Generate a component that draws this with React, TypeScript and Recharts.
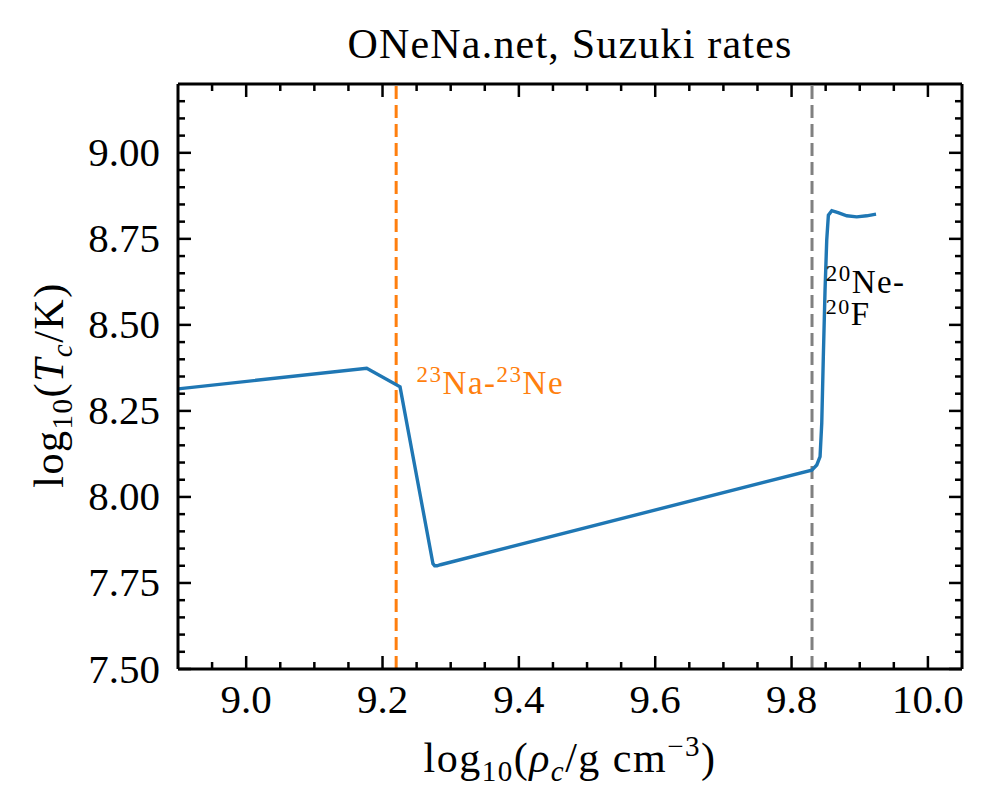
import { LineChart, Line, XAxis, YAxis, ReferenceLine, ReferenceDot, Label } from "recharts";

// central density / temperature track (log10)
const logRho = [8.9, 9.1768, 9.2257, 9.274, 9.2765, 9.28, 9.285, 9.8296, 9.837, 9.8418, 9.8443, 9.8466, 9.8491, 9.8516, 9.854, 9.859, 9.8682, 9.881, 9.8956, 9.9103, 9.9239];
const logT = [8.314, 8.374, 8.32, 7.806, 7.8, 7.8, 7.803, 8.078, 8.093, 8.117, 8.215, 8.408, 8.601, 8.747, 8.819, 8.832, 8.826, 8.817, 8.814, 8.817, 8.822];

// Urca threshold densities
const naNeRho = 9.22;
const neFRho = 9.83;

const xMajorTicks = [9.0, 9.2, 9.4, 9.6, 9.8, 10.0];
const xTickLabels = ["9.0", "9.2", "9.4", "9.6", "9.8", "10.0"];
const xMinorTicks = [8.95, 9.05, 9.1, 9.15, 9.25, 9.3, 9.35, 9.45, 9.5, 9.55, 9.65, 9.7, 9.75, 9.85, 9.9, 9.95];

const yMajorTicks = [7.5, 7.75, 8.0, 8.25, 8.5, 8.75, 9.0];
const yTickLabels = ["7.50", "7.75", "8.00", "8.25", "8.50", "8.75", "9.00"];
const yMinorTicks = [7.55, 7.6, 7.65, 7.7, 7.8, 7.85, 7.9, 7.95, 8.05, 8.1, 8.15, 8.2, 8.3, 8.35, 8.4, 8.45, 8.55, 8.6, 8.65, 8.7, 8.8, 8.85, 8.9, 8.95, 9.05, 9.1, 9.15];

const data = logRho.map((r, i) => ({ rho: r, T: logT[i] }));

const serif = { fontFamily: "'Liberation Serif', 'Times New Roman', serif" };
const MAJOR = 13;
const MINOR = 7;
const TICK_W = 2.5;

const xTicks = [...xMajorTicks, ...xMinorTicks];
const yTicks = [...yMajorTicks, ...yMinorTicks];

const BottomTick = ({ x, y, payload }: any) => {
  const idx = xMajorTicks.indexOf(payload.value);
  const len = idx >= 0 ? MAJOR : MINOR;
  return (
    <g>
      <line x1={x} x2={x} y1={y} y2={y - len} stroke="#000" strokeWidth={TICK_W} />
      {idx >= 0 && (
        <text x={x} y={y + 44} textAnchor="middle" style={serif} fontSize={41} fill="#000">
          {xTickLabels[idx]}
        </text>
      )}
    </g>
  );
};

const TopTick = ({ x, y, payload }: any) => {
  const len = xMajorTicks.includes(payload.value) ? MAJOR : MINOR;
  return <line x1={x} x2={x} y1={y} y2={y + len} stroke="#000" strokeWidth={TICK_W} />;
};

const LeftTick = ({ x, y, payload }: any) => {
  const idx = yMajorTicks.indexOf(payload.value);
  const len = idx >= 0 ? MAJOR : MINOR;
  return (
    <g>
      <line x1={x} x2={x + len} y1={y} y2={y} stroke="#000" strokeWidth={TICK_W} />
      {idx >= 0 && (
        <text x={x - 18} y={y + 13.5} textAnchor="end" style={serif} fontSize={41} fill="#000">
          {yTickLabels[idx]}
        </text>
      )}
    </g>
  );
};

const RightTick = ({ x, y, payload }: any) => {
  const len = yMajorTicks.includes(payload.value) ? MAJOR : MINOR;
  return <line x1={x} x2={x - len} y1={y} y2={y} stroke="#000" strokeWidth={TICK_W} />;
};

const TitleLabel = ({ viewBox }: any) => (
  <text
    x={viewBox.x + viewBox.width / 2}
    y={viewBox.y - 25}
    textAnchor="middle"
    style={serif}
    fontSize={42}
    letterSpacing={1.2}
    fill="#000"
  >
    ONeNa.net, Suzuki rates
  </text>
);

const XTitle = ({ viewBox }: any) => (
  <text
    x={viewBox.x + viewBox.width / 2}
    y={viewBox.y + 103}
    textAnchor="middle"
    style={serif}
    fontSize={42}
    letterSpacing={1.5}
    fill="#000"
  >
    log
    <tspan dy={9} fontSize={29}>10</tspan>
    <tspan dy={-9}>(</tspan>
    <tspan fontStyle="italic">ρ</tspan>
    <tspan dy={9} fontSize={29} fontStyle="italic">c</tspan>
    <tspan dy={-9}>/g cm</tspan>
    <tspan dy={-16} fontSize={29}>−3</tspan>
    <tspan dy={16}>)</tspan>
  </text>
);

const YTitle = ({ viewBox }: any) => {
  const cx = viewBox.x + 35;
  const cy = 385;
  return (
    <text
      x={cx}
      y={cy}
      transform={`rotate(-90 ${cx} ${cy})`}
      textAnchor="middle"
      style={serif}
      fontSize={42}
      letterSpacing={1.5}
      fill="#000"
    >
      log
      <tspan dy={9} fontSize={29}>10</tspan>
      <tspan dy={-9}>(</tspan>
      <tspan fontStyle="italic">T</tspan>
      <tspan dy={9} fontSize={29} fontStyle="italic">c</tspan>
      <tspan dy={-9}>/K)</tspan>
    </text>
  );
};

const NaNeText = ({ cx, cy }: any) => (
  <text x={cx} y={cy} style={serif} fontSize={33} letterSpacing={1.5} fill="#ff7f0e">
    <tspan dy={-12} fontSize={23}>23</tspan>
    <tspan dy={12}>Na-</tspan>
    <tspan dy={-12} fontSize={23}>23</tspan>
    <tspan dy={12}>Ne</tspan>
  </text>
);

const NeFText = ({ cx, cy }: any) => (
  <g>
    <text x={cx} y={cy - 32} style={serif} fontSize={33} letterSpacing={1.5} fill="#000">
      <tspan dy={-12} fontSize={23}>20</tspan>
      <tspan dy={12}>Ne-</tspan>
    </text>
    <text x={cx} y={cy} style={serif} fontSize={33} letterSpacing={1.5} fill="#000">
      <tspan dy={-11} fontSize={22}>20</tspan>
      <tspan dy={11}>F</tspan>
    </text>
  </g>
);

export default function App() {
  return (
    <div style={{ position: "absolute", left: 0, top: 0, width: 995, height: 811, background: "#fff" }}>
      <LineChart width={995} height={811} data={data} margin={{ top: 83, right: 32, bottom: 42, left: 28 }}>
        <XAxis
          dataKey="rho"
          type="number"
          domain={[8.9, 10.05]}
          allowDataOverflow
          ticks={xTicks}
          interval={0}
          height={100}
          tickSize={0}
          tickMargin={0}
          tickLine={false}
          tick={BottomTick}
          axisLine={{ stroke: "#000", strokeWidth: 3 }}
        >
          <Label content={XTitle} />
        </XAxis>
        <XAxis
          xAxisId="top"
          orientation="top"
          dataKey="rho"
          type="number"
          domain={[8.9, 10.05]}
          allowDataOverflow
          ticks={xTicks}
          interval={0}
          height={1}
          tickSize={0}
          tickMargin={0}
          tickLine={false}
          tick={TopTick}
          axisLine={{ stroke: "#000", strokeWidth: 3 }}
        >
          <Label content={TitleLabel} />
        </XAxis>
        <YAxis
          type="number"
          domain={[7.5, 9.2]}
          allowDataOverflow
          ticks={yTicks}
          interval={0}
          width={150}
          tickSize={0}
          tickMargin={0}
          tickLine={false}
          tick={LeftTick}
          axisLine={{ stroke: "#000", strokeWidth: 3 }}
        >
          <Label content={YTitle} />
        </YAxis>
        <YAxis
          yAxisId="right"
          orientation="right"
          type="number"
          domain={[7.5, 9.2]}
          allowDataOverflow
          ticks={yTicks}
          interval={0}
          width={1}
          tickSize={0}
          tickMargin={0}
          tickLine={false}
          tick={RightTick}
          axisLine={{ stroke: "#000", strokeWidth: 3 }}
        />
        <ReferenceLine x={naNeRho} stroke="#ff7f0e" strokeWidth={3} strokeDasharray="13 6" />
        <ReferenceLine x={neFRho} stroke="#808080" strokeWidth={3} strokeDasharray="13 6" />
        <Line
          dataKey="T"
          type="linear"
          stroke="#1f77b4"
          strokeWidth={3.4}
          dot={false}
          activeDot={false}
          isAnimationActive={false}
        />
        <ReferenceDot x={9.25} y={8.3} r={0} shape={NaNeText} />
        <ReferenceDot x={9.85} y={8.5} r={0} shape={NeFText} />
      </LineChart>
    </div>
  );
}
